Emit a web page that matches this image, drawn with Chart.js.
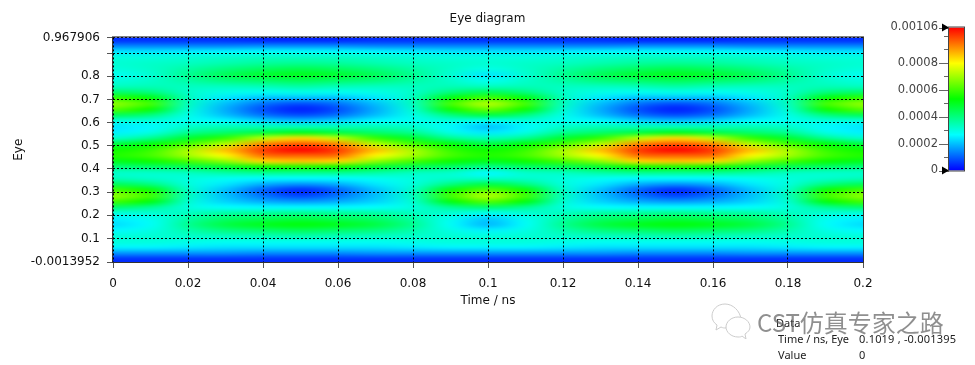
<!DOCTYPE html>
<html lang="en">
<head>
    <meta charset="UTF-8">
    <title>Eye diagram</title>
    <script src="https://cdn.jsdelivr.net/npm/chart.js"></script>
    <style>
        body { margin: 0; background: #fff; width: 975px; height: 365px; position: relative; overflow: hidden; }
        canvas { position: absolute; }
        #eyeChart { left: 0; top: 0; }
        #barChart { left: 880px; top: 18px; }
        .info { position: absolute; font: 11px "Noto Sans", sans-serif; color: #222; white-space: nowrap; }
        .mark { position: absolute; left: 757px; top: 304px; font: 24px "Noto Sans CJK SC", sans-serif; color: rgba(95,95,95,0.7); white-space: nowrap; }
        svg { position: absolute; left: 710px; top: 303px; }
    </style>
</head>
<body>
    <canvas id="eyeChart" width="975" height="365"></canvas>
    <canvas id="barChart" width="95" height="162"></canvas>
    <div class="info" style="left:776px;top:315px">Data</div>
    <div class="info" style="left:778px;top:331px">Time / ns, Eye</div>
    <div class="info" style="left:859px;top:331px;letter-spacing:0.2px">0.1019 , -0.001395</div>
    <div class="info" style="left:778px;top:347px">Value</div>
    <div class="info" style="left:859px;top:347px">0</div>
    <svg width="46" height="36" fill="#fff" stroke="#ccc" stroke-width="1">
        <path d="M15 1C7 1 2 7 2 13c0 4 2 7 5 9l-1 5 5-3c2 1 3 1 5 1 5-8 10-9 15-9C30 8 23 1 15 1z"/>
        <path d="M28 14c-7 0-12 5-12 10s5 10 12 10c2 0 3 0 4-1l4 3-1-5c3-2 5-4 5-7 0-5-5-10-12-10z"/>
    </svg>
    <div class="mark">CST仿真专家之路</div>
    <script>
        // axis ticks
        const xTickLabels = ['0', '0.02', '0.04', '0.06', '0.08', '0.1', '0.12', '0.14', '0.16', '0.18', '0.2'];
        const yTickValues = [-0.0013952, 0.1, 0.2, 0.3, 0.4, 0.5, 0.6, 0.7, 0.8, 0.9, 0.967906];
        const yTickLabels = ['-0.0013952', '0.1', '0.2', '0.3', '0.4', '0.5', '0.6', '0.7', '0.8', '', '0.967906'];

        // grid of the heat map
        const timeValues = [0, 0.01, 0.02, 0.03, 0.04, 0.05, 0.06, 0.07, 0.08, 0.09, 0.1, 0.11, 0.12, 0.13, 0.14, 0.15, 0.16, 0.17, 0.18, 0.19, 0.2];
        const eyeValues = [0.955, 0.93, 0.906, 0.881, 0.856, 0.831, 0.806, 0.781, 0.756, 0.732, 0.707, 0.682, 0.657, 0.632, 0.607, 0.582, 0.558, 0.533, 0.508, 0.483, 0.458, 0.433, 0.409, 0.384, 0.359, 0.334, 0.309, 0.284, 0.26, 0.235, 0.21, 0.185, 0.16, 0.135, 0.111, 0.086, 0.061, 0.036, 0.01];
        // values in 1e-5, one row per eyeValues entry
        const heatValues = [
            [5, 5, 5, 5, 4, 4, 4, 5, 5, 5, 5, 5, 5, 5, 4, 4, 4, 5, 5, 5, 5],
            [14, 14, 14, 14, 15, 15, 15, 14, 14, 14, 14, 14, 14, 14, 15, 15, 15, 14, 14, 14, 14],
            [24, 24, 25, 26, 27, 27, 27, 26, 25, 24, 24, 24, 25, 26, 27, 27, 27, 26, 25, 24, 24],
            [30, 30, 31, 32, 33, 33, 33, 32, 31, 30, 30, 30, 31, 32, 33, 33, 33, 32, 31, 30, 30],
            [31, 32, 33, 35, 37, 38, 37, 35, 33, 32, 31, 32, 33, 35, 37, 38, 37, 35, 33, 32, 31],
            [30, 32, 36, 40, 43, 45, 43, 40, 36, 32, 29, 32, 36, 40, 43, 45, 43, 40, 36, 32, 30],
            [28, 31, 38, 44, 48, 50, 48, 44, 38, 31, 24, 31, 38, 44, 48, 50, 48, 44, 38, 31, 28],
            [30, 32, 36, 40, 42, 44, 42, 40, 36, 32, 28, 32, 36, 40, 42, 44, 42, 40, 36, 32, 30],
            [33, 34, 33, 33, 34, 36, 34, 33, 33, 34, 33, 34, 33, 33, 34, 36, 34, 33, 33, 34, 33],
            [42, 40, 32, 29, 28, 29, 28, 29, 32, 40, 44, 40, 32, 29, 28, 29, 28, 29, 32, 40, 42],
            [58, 52, 33, 24, 20, 20, 20, 24, 33, 52, 60, 52, 33, 24, 20, 20, 20, 24, 33, 52, 58],
            [68, 60, 33, 20, 12, 8, 12, 20, 33, 60, 72, 60, 33, 20, 12, 8, 12, 20, 33, 60, 68],
            [62, 54, 31, 18, 8, 3, 8, 18, 31, 54, 64, 54, 31, 18, 8, 3, 8, 18, 31, 54, 62],
            [44, 40, 29, 20, 12, 8, 12, 20, 29, 40, 46, 40, 29, 20, 12, 8, 12, 20, 29, 40, 44],
            [30, 30, 28, 26, 22, 20, 22, 26, 28, 30, 28, 30, 28, 26, 22, 20, 22, 26, 28, 30, 30],
            [24, 26, 32, 34, 34, 34, 34, 34, 32, 26, 20, 26, 32, 34, 34, 34, 34, 34, 32, 26, 24],
            [25, 29, 38, 42, 46, 50, 46, 42, 38, 29, 24, 29, 38, 42, 46, 50, 46, 42, 38, 29, 25],
            [32, 38, 48, 58, 72, 84, 72, 58, 48, 38, 34, 38, 48, 58, 72, 84, 72, 58, 48, 38, 32],
            [46, 52, 60, 72, 92, 97, 92, 72, 60, 52, 46, 52, 60, 72, 92, 97, 92, 72, 60, 52, 46],
            [54, 58, 70, 86, 100, 106, 100, 86, 70, 58, 54, 58, 70, 86, 100, 106, 100, 86, 70, 58, 54],
            [56, 60, 70, 80, 95, 96, 95, 80, 70, 60, 56, 60, 70, 80, 95, 96, 95, 80, 70, 60, 56],
            [50, 54, 60, 68, 84, 86, 84, 68, 60, 54, 50, 54, 60, 68, 84, 86, 84, 68, 60, 54, 50],
            [40, 42, 44, 48, 54, 56, 54, 48, 44, 42, 38, 42, 44, 48, 54, 56, 54, 48, 44, 42, 40],
            [32, 32, 33, 36, 38, 38, 38, 36, 33, 32, 26, 32, 33, 36, 38, 38, 38, 36, 33, 32, 32],
            [34, 32, 30, 28, 26, 26, 26, 28, 30, 32, 32, 32, 30, 28, 26, 26, 26, 28, 30, 32, 34],
            [44, 40, 30, 24, 18, 15, 18, 24, 30, 40, 46, 40, 30, 24, 18, 15, 18, 24, 30, 40, 44],
            [60, 54, 32, 20, 10, 4, 10, 20, 32, 54, 62, 54, 32, 20, 10, 4, 10, 20, 32, 54, 60],
            [68, 60, 33, 20, 12, 7, 12, 20, 33, 60, 72, 60, 33, 20, 12, 7, 12, 20, 33, 60, 68],
            [60, 52, 31, 22, 18, 16, 18, 22, 31, 52, 62, 52, 31, 22, 18, 16, 18, 22, 31, 52, 60],
            [42, 38, 30, 27, 26, 26, 26, 27, 30, 38, 42, 38, 30, 27, 26, 26, 26, 27, 30, 38, 42],
            [30, 31, 33, 36, 37, 38, 37, 36, 33, 31, 28, 31, 33, 36, 37, 38, 37, 36, 33, 31, 30],
            [25, 28, 36, 42, 44, 46, 44, 42, 36, 28, 21, 28, 36, 42, 44, 46, 44, 42, 36, 28, 25],
            [23, 27, 38, 46, 50, 52, 50, 46, 38, 27, 19, 27, 38, 46, 50, 52, 50, 46, 38, 27, 23],
            [26, 29, 35, 40, 42, 44, 42, 40, 35, 29, 25, 29, 35, 40, 42, 44, 42, 40, 35, 29, 26],
            [30, 31, 32, 33, 34, 35, 34, 33, 32, 31, 30, 31, 32, 33, 34, 35, 34, 33, 32, 31, 30],
            [30, 30, 29, 28, 28, 28, 28, 28, 29, 30, 30, 30, 29, 28, 28, 28, 28, 28, 29, 30, 30],
            [25, 25, 24, 23, 23, 23, 23, 23, 24, 25, 25, 25, 24, 23, 23, 23, 23, 23, 24, 25, 25],
            [15, 15, 15, 15, 14, 14, 14, 15, 15, 15, 15, 15, 15, 15, 14, 14, 14, 15, 15, 15, 15],
            [5, 5, 5, 5, 5, 5, 5, 5, 5, 5, 5, 5, 5, 5, 5, 5, 5, 5, 5, 5, 5]
        ];

        // colour bar
        const barMax = 0.00106;
        const barTickValues = [0, 0.0001, 0.0002, 0.0003, 0.0004, 0.0005, 0.0006, 0.0007, 0.0008, 0.0009, 0.001, 0.00106];
        const barTickLabels = ['0', '', '0.0002', '', '0.0004', '', '0.0006', '', '0.0008', '', '', '0.00106'];
        const rampColors = [[0, 0, 255], [0, 255, 255], [0, 255, 0], [255, 255, 0], [255, 0, 0]];

        const FONT = { family: '"DejaVu Sans", sans-serif', size: 12 };

        function rampColor(t) {
            const pos = Math.min(Math.max(t, 0), 1) * (rampColors.length - 1);
            const i = Math.min(Math.floor(pos), rampColors.length - 2);
            const f = pos - i;
            return rampColors[i].map((c, k) => Math.round(c + (rampColors[i + 1][k] - c) * f));
        }

        // paints the scatter points of the dataset as a smooth heat map
        const heatmapPlugin = {
            id: 'heatmap',
            beforeDatasetsDraw(chart) {
                const points = chart.data.datasets[0].data;
                const cols = timeValues.length, rows = eyeValues.length;
                const off = document.createElement('canvas');
                off.width = cols;
                off.height = rows;
                const octx = off.getContext('2d');
                const img = octx.createImageData(cols, rows);
                points.forEach((p, n) => {
                    const rgb = rampColor(p.v / barMax);
                    img.data.set([rgb[0], rgb[1], rgb[2], 255], n * 4);
                });
                octx.putImageData(img, 0, 0);

                const { x, y } = chart.scales;
                const halfX = (timeValues[1] - timeValues[0]) / 2;
                const left = x.getPixelForValue(timeValues[0] - halfX);
                const right = x.getPixelForValue(timeValues[cols - 1] + halfX);
                const top = y.getPixelForValue(y.max);
                const bottom = y.getPixelForValue(y.min);
                const a = chart.chartArea;
                const ctx = chart.ctx;
                ctx.save();
                ctx.beginPath();
                ctx.rect(a.left, a.top, a.width, a.height);
                ctx.clip();
                ctx.imageSmoothingEnabled = true;
                ctx.imageSmoothingQuality = 'high';
                ctx.drawImage(off, left, top, right - left, bottom - top);
                ctx.restore();
            },
            afterDraw(chart) {
                const a = chart.chartArea, ctx = chart.ctx;
                ctx.save();
                ctx.strokeStyle = '#333';
                ctx.lineWidth = 1;
                ctx.strokeRect(a.left - 0.5, a.top - 0.5, a.width + 1, a.height + 1);
                ctx.restore();
            }
        };

        new Chart(document.getElementById('eyeChart'), {
            type: 'scatter',
            data: {
                datasets: [{
                    label: 'Eye',
                    data: eyeValues.flatMap((e, r) => timeValues.map((t, c) => ({ x: t, y: e, v: heatValues[r][c] * 1e-5 }))),
                    pointRadius: 0,
                    pointHoverRadius: 0
                }]
            },
            plugins: [heatmapPlugin],
            options: {
                responsive: false,
                animation: false,
                events: [],
                layout: { autoPadding: false, padding: { left: 0, right: 0, top: 0, bottom: 57 } },
                plugins: {
                    legend: { display: false },
                    tooltip: { enabled: false },
                    title: {
                        display: true,
                        text: 'Eye diagram',
                        color: '#111',
                        font: { ...FONT, weight: 'normal' },
                        padding: { top: 12, bottom: 11 }
                    }
                },
                scales: {
                    x: {
                        type: 'linear',
                        min: 0,
                        max: 0.2,
                        grid: { color: '#000', z: 1, tickBorderDash: [], tickColor: '#555', tickLength: 6 },
                        border: { display: false, dash: [2, 2] },
                        ticks: {
                            stepSize: 0.02,
                            autoSkip: false,
                            maxRotation: 0,
                            color: '#111',
                            font: FONT,
                            padding: 9,
                            callback: (v, i) => xTickLabels[i]
                        },
                        title: { display: true, text: 'Time / ns', color: '#111', font: FONT, padding: 0 },
                        afterFit(scale) { scale.height = 46; }
                    },
                    y: {
                        type: 'linear',
                        min: yTickValues[0],
                        max: yTickValues[yTickValues.length - 1],
                        afterBuildTicks(scale) { scale.ticks = yTickValues.map(v => ({ value: v })); },
                        grid: { color: '#000', z: 1, tickBorderDash: [], tickColor: '#555', tickLength: 6 },
                        border: { display: false, dash: [2, 2] },
                        ticks: {
                            autoSkip: false,
                            color: '#111',
                            font: FONT,
                            padding: 7,
                            callback: (v, i) => yTickLabels[i]
                        },
                        title: { display: true, text: 'Eye', color: '#111', font: FONT, padding: { top: 12, bottom: 0 } },
                        afterFit(scale) { scale.width = 113; }
                    },
                    // empty axis, keeps the room for the colour bar
                    side: {
                        type: 'linear',
                        position: 'right',
                        grid: { display: false },
                        border: { display: false },
                        ticks: { display: false },
                        afterFit(scale) { scale.width = 112; }
                    }
                }
            }
        });

        // ticks and the two black arrows of the colour bar
        const barMarksPlugin = {
            id: 'barMarks',
            afterDraw(chart) {
                const a = chart.chartArea, ctx = chart.ctx, y = chart.scales.y;
                ctx.save();
                ctx.strokeStyle = '#666';
                ctx.lineWidth = 1;
                barTickValues.forEach((v, i) => {
                    const py = Math.round(y.getPixelForValue(v)) + 0.5;
                    const len = barTickLabels[i] ? 10 : 5;
                    ctx.beginPath();
                    ctx.moveTo(a.left - len, py);
                    ctx.lineTo(a.left, py);
                    ctx.stroke();
                });
                ctx.fillStyle = '#000';
                [0, barMax].forEach(v => {
                    const py = y.getPixelForValue(v);
                    ctx.beginPath();
                    ctx.moveTo(a.left - 7, py - 4);
                    ctx.lineTo(a.left, py);
                    ctx.lineTo(a.left - 7, py + 4);
                    ctx.closePath();
                    ctx.fill();
                });
                ctx.strokeStyle = '#444';
                ctx.strokeRect(a.left - 0.5, a.top - 0.5, a.width + 1, a.height + 1);
                ctx.restore();
            }
        };

        new Chart(document.getElementById('barChart'), {
            type: 'bar',
            data: {
                labels: ['Value'],
                datasets: [{
                    data: [barMax],
                    barPercentage: 1,
                    categoryPercentage: 1,
                    backgroundColor(context) {
                        const a = context.chart.chartArea;
                        if (!a) return '#00f';
                        const g = context.chart.ctx.createLinearGradient(0, a.bottom, 0, a.top);
                        rampColors.forEach((c, i) => g.addColorStop(i / (rampColors.length - 1), `rgb(${c.join(',')})`));
                        return g;
                    }
                }]
            },
            plugins: [barMarksPlugin],
            options: {
                responsive: false,
                animation: false,
                events: [],
                layout: { autoPadding: false, padding: { left: 0, right: 11, top: 9.5, bottom: 9.5 } },
                plugins: { legend: { display: false }, tooltip: { enabled: false } },
                scales: {
                    x: { display: false },
                    y: {
                        min: 0,
                        max: barMax,
                        afterBuildTicks(scale) { scale.ticks = barTickValues.map(v => ({ value: v })); },
                        grid: { display: false },
                        border: { display: false },
                        ticks: {
                            autoSkip: false,
                            color: '#444',
                            font: { family: FONT.family, size: 11.5 },
                            padding: 3,
                            callback: (v, i) => barTickLabels[i]
                        },
                        afterFit(scale) {
                            scale.width = 69;
                            scale.paddingTop = 0;
                            scale.paddingBottom = 0;
                        }
                    }
                }
            }
        });
    </script>
</body>
</html>
